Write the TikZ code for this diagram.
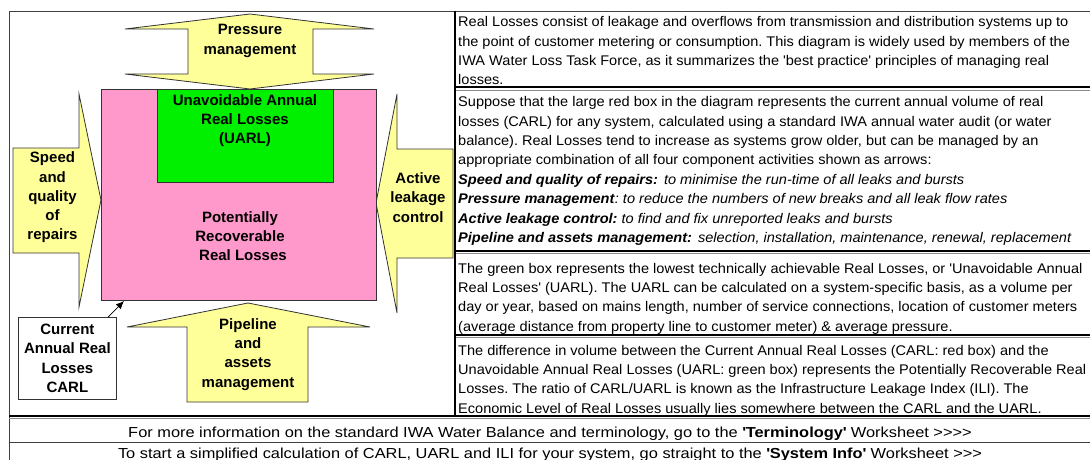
\documentclass[tikz,border=0pt]{standalone}
\usepackage{fontspec}
\setmainfont{Liberation Sans}
\newfontfamily\panelfont{Liberation Sans}[FakeStretch=1.04]
\newfontfamily\footfont{Liberation Sans}[FakeStretch=1.13]
\newfontfamily\labelfont{Liberation Sans}
\usetikzlibrary{arrows.meta}

\definecolor{arrowyellow}{HTML}{FFFF99}
\definecolor{carlpink}{HTML}{FF99CC}
\definecolor{uarlgreen}{HTML}{00F000}
\definecolor{edgegray}{HTML}{333333}
\newcommand{\sqt}{\textquotesingle}

\tikzset{
  shape edge/.style={draw=edgegray, line width=0.8pt, line join=miter},
  activity/.style={shape edge, fill=arrowyellow},
  label text/.style={font=\labelfont\bfseries\fontsize{15}{19.3}\selectfont, align=center, inner sep=0pt},
  panel text/.style={font=\panelfont\fontsize{14}{19.35}\selectfont, align=left, anchor=north west, inner sep=0pt},
  foot text/.style={font=\footfont\fontsize{14.5}{17}\selectfont, anchor=base, inner sep=0pt},
  frame rule/.style={draw=black!75, line width=0.8pt},
  heavy rule/.style={draw=black, line width=2pt},
  light rule/.style={draw=black!45, line width=1pt},
}

\begin{document}
\frenchspacing
\begin{tikzpicture}[x=1pt,y=-1pt]
\useasboundingbox (0,0) rectangle (1090,460);
\fill[white] (0,0) rectangle (1090,460);

% --- the four component activities (yellow arrows) ---
\draw[activity] (250,14) -- (374,29) -- (313,29) -- (313,74) -- (374,74) -- (250,89)
  -- (125,74) -- (188,74) -- (188,29) -- (125,29) -- cycle;
\draw[activity] (13,148) -- (79,148) -- (79,94) -- (101,200) -- (79,307) -- (79,253)
  -- (13,253) -- cycle;
\draw[activity] (453,149) -- (397,149) -- (397,94) -- (376,203) -- (397,313) -- (397,258)
  -- (453,258) -- cycle;
\draw[activity] (248,303) -- (370,327) -- (308,327) -- (308,402) -- (187,402) -- (187,327)
  -- (127,327) -- cycle;

% --- CARL and UARL boxes ---
\node[shape edge, fill=carlpink, anchor=north west, minimum width=275pt, minimum height=211pt,
  inner sep=0pt] (carlbox) at (101,89) {};
\node[shape edge, fill=uarlgreen, anchor=north west, minimum width=176pt, minimum height=93pt,
  inner sep=0pt] (uarlbox) at (157,89) {};

\node[label text] (uarltext) at (245,120.5) {Unavoidable Annual\\Real Losses\\(UARL)};
\node[label text] (prltext) at (240,236) {Potentially\\Recoverable\\\hspace*{6pt}Real Losses};
\node[label text] (pmtext) at (250,41) {Pressure\\management};
\node[label text] (sqtext) at (52.5,197.5) {Speed\\and\\quality\\of\\repairs};
\node[label text] (alctext) at (418,197.5) {Active\\leakage\\control};
\node[label text] (pamtext) at (248,354.5) {Pipeline\\and\\assets\\management};

\node[shape edge, fill=white, label text, anchor=north west, minimum width=98pt,
  minimum height=82pt] (carl) at (18,317) {Current\\Annual Real\\Losses\\CARL};
\coordinate (carltip) at (124,301);
\draw[-{Latex[length=8pt,width=7pt]}, line width=0.8pt, black] (carl) -- (carltip);

% --- explanatory text panel ---
\node[panel text] (row1) at (458,14.5) {\rule{0pt}{12pt}Real Losses consist of leakage and overflows from transmission and distribution systems up to\\
the point of customer metering or consumption. This diagram is widely used by members of the\\
IWA Water Loss Task Force, as it summarizes the \sqt best practice\sqt\ principles of managing real\\
losses.};

\node[panel text] (row2) at (458,94.7) {\rule{0pt}{12pt}Suppose that the large red box in the diagram represents the current annual volume of real\\
losses (CARL) for any system, calculated using a standard IWA annual water audit (or water\\
balance). Real Losses tend to increase as systems grow older, but can be managed by an\\
appropriate combination of all four component activities shown as arrows:\\
\textbf{\textit{Speed and quality of repairs:}}\hspace{6pt}\textit{to minimise the run-time of all leaks and bursts}\\
\textbf{\textit{Pressure management}}\textit{: to reduce the numbers of new breaks and all leak flow rates}\\
\textbf{\textit{Active leakage control:}} \textit{to find and fix unreported leaks and bursts}\\
\textbf{\textit{Pipeline and assets management:}}\hspace{6pt}\textit{selection, installation, maintenance, renewal, replacement}};

\node[panel text] (row3) at (458,261) {\rule{0pt}{12pt}The green box represents the lowest technically achievable Real Losses, or \sqt Unavoidable Annual\\
Real Losses\sqt\ (UARL). The UARL can be calculated on a system-specific basis, as a volume per\\
day or year, based on mains length, number of service connections, location of customer meters\\
(average distance from property line to customer meter) \& average pressure.};

\node[panel text] (row4) at (458,343) {\rule{0pt}{12pt}The difference in volume between the Current Annual Real Losses (CARL: red box) and the\\
Unavoidable Annual Real Losses (UARL: green box) represents the Potentially Recoverable Real\\
Losses. The ratio of CARL/UARL is known as the Infrastructure Leakage Index (ILI). The\\
Economic Level of Real Losses usually lies somewhere between the CARL and the UARL.};

\node[foot text] (foot1) at (550,437) {For more information on the standard IWA Water Balance and terminology, go to the \textbf{\sqt Terminology\sqt} Worksheet >>>>};
\node[foot text] (foot2) at (550,458.3) {To start a simplified calculation of CARL, UARL and ILI for your system, go straight to the \textbf{\sqt System Info\sqt} Worksheet >>>};

% --- sheet grid ---
\draw[frame rule] (9,461) -- (9,11) -- (1091,11);
\foreach \y/\xa in {87.5/456, 250.5/456, 334.5/456, 415.5/9} {
  \draw[heavy rule] (\xa,\y) -- (1091,\y);
  \draw[light rule] (\xa,\y+3) -- (1091,\y+3);
}
\draw[heavy rule, line width=2.4pt] (455,11) -- (455,416.5);
\draw[frame rule] (9,442) -- (1091,442);
\end{tikzpicture}
\end{document}
